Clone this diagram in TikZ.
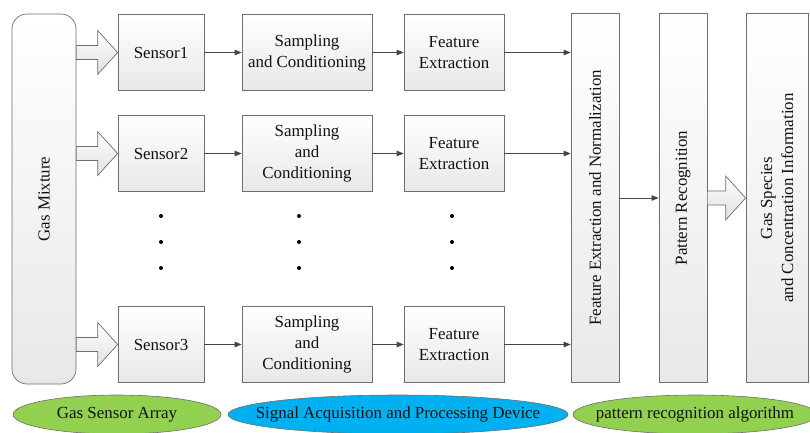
\documentclass[tikz,border=0pt]{standalone}
\usepackage{fontspec}
\setmainfont{Liberation Serif}
\usetikzlibrary{arrows.meta,shapes.geometric,calc}

\definecolor{edge}{HTML}{6E6E6E}
\definecolor{ink}{HTML}{111111}
\definecolor{wire}{HTML}{454545}
\definecolor{leaf}{HTML}{92D050}
\definecolor{sky}{HTML}{00B0F0}

% wide hollow arrow from the first point to the second (tip)
\newcommand\fatarrow[2]{%
  \path[fatarrow] let \p1=(#1), \p2=(#2) in
    (\x1,\y1+7pt) -- (\x2-20pt,\y1+7pt) -- (\x2-20pt,\y1+22pt) --
    (\x2,\y1) -- (\x2-20pt,\y1-22pt) -- (\x2-20pt,\y1-7pt) --
    (\x1,\y1-7pt) -- cycle;}

\begin{document}
\begin{tikzpicture}[x=1pt,y=-1pt,
  font=\rmfamily\fontsize{16.9}{21}\selectfont, text=ink,
  box/.style={draw=edge, line width=0.7pt, top color=white, bottom color=black!9,
    align=center, inner sep=0pt, minimum height=76},
  tall/.style={draw=edge, line width=0.7pt, top color=white, bottom color=black!9,
    inner sep=0pt, minimum height=369},
  fatarrow/.style={draw=edge, line width=0.7pt, top color=white, bottom color=black!12},
  link/.style={draw=wire, line width=0.8pt, -{Triangle[length=7pt,width=5.5pt]}},
  tag/.style={ellipse, draw=edge, line width=0.6pt, inner sep=0pt, minimum height=39},
  dot/.style={fill=black}
]
\useasboundingbox (0,0) rectangle (810,432);

% gas source
\node[tall, rounded corners=15pt, minimum width=64, minimum height=370,
      label={[rotate=90]center:Gas Mixture}] (gm) at (44,199) {};

% sensor rows
\node[box, minimum width=86] (s1) at (161,52.5) {Sensor1};
\node[box, minimum width=86] (s2) at (161,153.5) {Sensor2};
\node[box, minimum width=86] (s3) at (161,344.5) {Sensor3};

\node[box, minimum width=130] (c1) at (307,52.5) {Sampling\\and Conditioning};
\node[box, minimum width=130] (c2) at (307,153.5) {Sampling\\and\\Conditioning};
\node[box, minimum width=130] (c3) at (307,344.5) {Sampling\\and\\Conditioning};

\node[box, minimum width=100] (f1) at (454,52.5) {Feature\\Extraction};
\node[box, minimum width=100] (f2) at (454,153.5) {Feature\\Extraction};
\node[box, minimum width=100] (f3) at (454,344.5) {Feature\\Extraction};

% recognition stages
\node[tall, minimum width=48,
      label={[rotate=90]center:Feature Extraction and Normalization}] (fn) at (595,198) {};
\node[tall, minimum width=48,
      label={[rotate=90]center:Pattern Recognition}] (pr) at (683,198) {};
\node[tall, minimum width=62,
      label={[rotate=90, align=center]center:Gas Species\\and Concentration Information}] (gs) at (777,198) {};

% omitted rows
\foreach \x in {161,299,452}
  \foreach \y in {216,242,268}
    \fill[dot] (\x,\y) circle[radius=2];

% wide arrows
\fatarrow{gm.east |- s1.west}{s1.west}
\fatarrow{gm.east |- s2.west}{s2.west}
\fatarrow{gm.east |- s3.west}{s3.west}
\fatarrow{pr.east}{gs.west}

% signal flow
\foreach \i in {1,2,3}{
  \draw[link] (s\i) -- (c\i);
  \draw[link] (c\i) -- (f\i);
  \draw[link] (f\i.east) -- (fn.west |- f\i.east);
}
\draw[link] (fn.east) -- (pr.west);

% stage captions
\node[tag, fill=leaf, minimum width=208,
      label={center:Gas Sensor Array}] (capA) at (117,414.5) {};
\node[tag, fill=sky, minimum width=340,
      label={center:Signal Acquisition and Processing Device}] (capB) at (398,414.5) {};
\node[tag, fill=leaf, minimum width=244,
      label={center:pattern recognition algorithm}] (capC) at (695,414.5) {};
\end{tikzpicture}
\end{document}
